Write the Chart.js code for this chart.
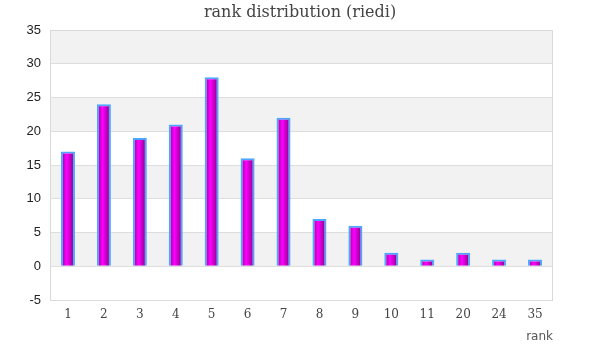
<!DOCTYPE html>
<html><head><meta charset="utf-8">
<script src="https://cdn.jsdelivr.net/npm/chart.js@4/dist/chart.umd.min.js"></script>
<style>html,body{margin:0;padding:0;background:#fff}#w{width:600px;height:360px}</style>
</head><body><div id="w"><canvas id="c"></canvas></div>
<script>
const categories = ["1","2","3","4","5","6","7","8","9","10","11","20","24","35"];
const counts = [17,24,19,21,28,16,22,7,6,2,1,2,1,1];
const yMin = -5, yMax = 35, yStep = 5;
const BAR_PCT = 0.39;

const bands = {
  id: 'bands',
  beforeDraw(chart) {
    const {ctx, chartArea: a, scales: {y}} = chart;
    ctx.save();
    ctx.fillStyle = '#f2f2f2';
    for (let v = 0; v < yMax; v += 10) {
      const t = y.getPixelForValue(v + 5), b = y.getPixelForValue(v);
      ctx.fillRect(a.left, t, a.right - a.left, b - t);
    }
    ctx.restore();
  },
  afterDraw(chart) {
    const {ctx, chartArea: a} = chart;
    ctx.save();
    ctx.strokeStyle = '#d9d9d9';
    ctx.lineWidth = 1;
    ctx.strokeRect(a.left + 0.5, a.top + 0.5, a.right - a.left - 1, a.bottom - a.top);
    ctx.fillStyle = '#444';
    ctx.font = "16px 'DejaVu Serif', serif";
    ctx.textAlign = 'center';
    ctx.textBaseline = 'middle';
    ctx.fillText('rank distribution (riedi)', 300, 13);
    ctx.restore();
  }
};

function barGradient(c) {
  const chart = c.chart, xs = chart.scales.x;
  if (!xs || c.dataIndex === undefined || !chart.chartArea) return '#cc00cc';
  const cx = xs.getPixelForValue(c.dataIndex);
  const w = (xs.width / categories.length) * BAR_PCT;
  const g = chart.ctx.createLinearGradient(cx - w / 2, 0, cx + w / 2, 0);
  g.addColorStop(0, '#8a008a');
  g.addColorStop(0.4, '#ff00ff');
  g.addColorStop(1, '#7a007a');
  return g;
}

new Chart(document.getElementById('c'), {
  type: 'bar',
  data: {
    labels: categories,
    datasets: [{
      data: counts,
      backgroundColor: barGradient,
      borderColor: '#4da6ff',
      borderWidth: 2,
      barPercentage: BAR_PCT,
      categoryPercentage: 1
    }]
  },
  options: {
    responsive: true,
    maintainAspectRatio: false,
    animation: false,
    layout: {padding: {left: 0, right: 47, top: 30, bottom: 12}},
    plugins: {
      legend: {display: false},
      tooltip: {enabled: false},
      title: {display: false}
    },
    scales: {
      x: {
        grid: {display: false, drawTicks: false},
        border: {display: false},
        ticks: {color: '#444', padding: 8, font: {family: "'DejaVu Serif', serif", size: 12}, maxRotation: 0},
        title: {display: true, text: 'rank', align: 'end', color: '#555', font: {family: "'DejaVu Sans', sans-serif", size: 12}, padding: {top: 4, bottom: 4}},
        afterFit(s) { s.height = 48; }
      },
      y: {
        min: yMin, max: yMax,
        ticks: {stepSize: yStep, color: '#222', padding: 9, font: {family: "'Liberation Sans', sans-serif", size: 13}},
        grid: {color: '#dedede', drawTicks: false},
        border: {display: false},
        afterFit(s) { s.width = 50; }
      }
    }
  },
  plugins: [bands]
});
</script></body></html>
